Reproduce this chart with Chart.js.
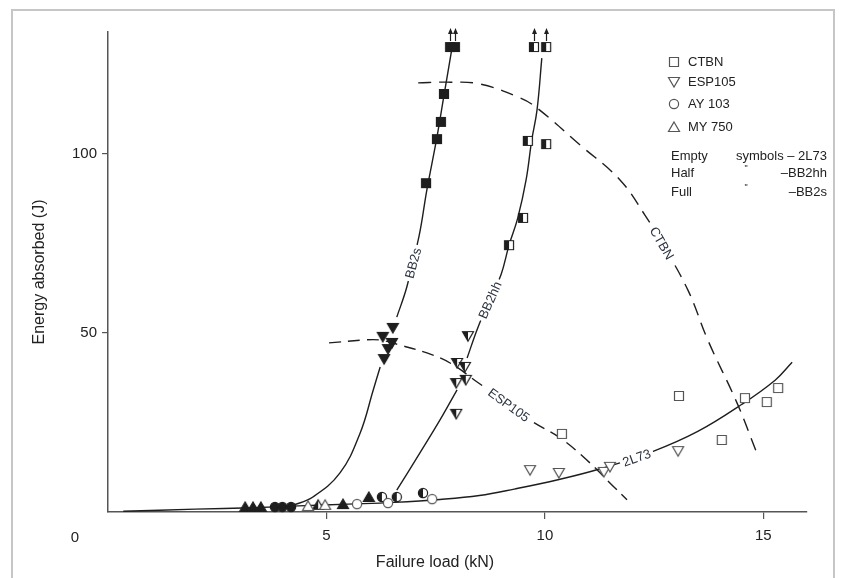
<!DOCTYPE html>
<html>
<head>
<meta charset="utf-8">
<title>Energy absorbed vs failure load</title>
<script src="https://cdn.jsdelivr.net/npm/chart.js@4.4.1/dist/chart.umd.min.js"></script>
<style>
    html, body { margin: 0; padding: 0; background: #fff; }
    #wrap { position: relative; width: 847px; height: 578px; overflow: hidden; }
    #frame { position: absolute; left: 11px; top: 9px; width: 824px; height: 590px; border: 2px solid #c6c6c6; box-sizing: border-box; }
    #plot { position: absolute; left: 0; top: 0; }
</style>
</head>
<body>
<div id="wrap">
    <div id="frame"></div>
    <canvas id="plot" width="847" height="578"></canvas>
</div>
<script>
// Failure load (kN) against energy absorbed (J) for four resins on three fabrics

const DARK = '#1e1e1e';
const FONT = '"Liberation Sans", Arial, Helvetica, sans-serif';

const xTicks = [5, 10, 15];
const yTicks = [50, 100];

const resinNames = ['CTBN', 'ESP105', 'AY 103', 'MY 750'];
const fabricNotes = [
    ['Empty', 'symbols \u2013 2L73'],
    ['Half', '\u2013BB2hh'],
    ['Full', '\u2013BB2s']
];

// Hand-drawn trend curves, [kN, J]; a null energy breaks the line
const curve2L73 = [[0.35, 0.2], [2.0, 0.8], [3.3, 1.2], [4.36, 1.7], [5.5, 2.2], [6.55, 2.7], [7.6, 3.5],
    [8.5, 4.6], [9.3, 6.4], [10.3, 9.0], [11.25, 12.0], [12.45, 16.8], [13.5, 22.5], [14.5, 30.0],
    [15.27, 36.8], [15.66, 41.8]];
const curveBB2s = [[4.2, 1.7], [4.69, 4.2], [5.31, 10.9], [5.77, 22], [6.07, 34], [6.23, 40.5], [6.4, null],
    [6.61, 54.4], [6.84, 62.8], [7.12, 77], [7.3, 90], [7.52, 104], [7.7, 117], [7.86, 128.5]];
const curveBB2hh = [[6.61, 6.1], [7.14, 16.5], [7.6, 25.7], [7.99, 34.1], [8.1, null], [8.22, 43],
    [8.47, 51.6], [8.74, 59.2], [9.0, 66.4], [9.18, 74.5], [9.38, 82.1], [9.57, 92.7], [9.70, 103.9],
    [9.82, 112.2], [9.93, 126.7]];
const curveCTBN = [[7.1, 119.8], [7.76, 120], [8.51, 119.5], [9.43, 115.6], [9.82, 112.8], [10.8, 102.5],
    [11.72, 92.7], [12.29, 82.9], [12.68, 75.1], [13.28, 61.8], [13.73, 48], [14.4, 30.4], [14.85, 16.5]];
const curveESP105 = [[5.06, 47.2], [5.84, 48], [6.23, 48], [6.68, 46.6], [7.3, 44.4], [7.83, 41.6],
    [8.45, 36.3], [9.18, 29.9], [9.73, 25.1], [10.35, 20.7], [10.96, 14.5], [11.54, 7.5], [11.88, 3.4]];

// Measured points, [kN, J]
const ctbn2L73 = [[13.07, 32.4], [10.39, 21.8], [14.05, 20.1], [14.58, 31.8], [15.08, 30.7], [15.34, 34.6]];
const ctbnBB2hh = [[9.18, 74.5], [9.5, 82.1], [9.61, 103.6], [10.03, 102.7], [9.75, 129.8], [10.03, 129.8]];
const ctbnBB2s = [[7.28, 91.8], [7.53, 104.1], [7.62, 108.9], [7.69, 116.7], [7.83, 129.8], [7.94, 129.8]];

const esp2L73 = [[9.66, 11.7], [10.32, 10.9], [11.35, 11.2], [11.49, 12.6], [13.05, 17.0]];
const espBB2hh = [[8.24, 49.1], [7.99, 41.6], [8.17, 40.5], [7.97, 36.0], [8.19, 36.9], [7.97, 27.4]];
const espBB2s = [[6.52, 51.4], [6.29, 48.9], [6.5, 47.2], [6.41, 45.5], [6.32, 42.7]];

const ay2L73 = [[5.7, 2.2], [6.41, 2.5], [7.42, 3.6]];
const ayBB2hh = [[6.27, 4.2], [6.61, 4.2], [7.21, 5.3]];
const ayBB2s = [[3.82, 1.4], [3.99, 1.4], [4.19, 1.4]];

const my2L73 = [[4.58, 1.7], [4.97, 2.0]];
const myBB2hh = [[4.81, 2.0]];
const myBB2s = [[3.14, 1.4], [3.32, 1.4], [3.5, 1.4], [5.38, 2.2], [5.97, 4.2]];

// Off-scale results (still rising) get an arrow
const OFF_SCALE = 129;

function makeMarker(shape, fill) {
    const size = 14;
    const m = size / 2;
    const c = document.createElement('canvas');
    c.width = size;
    c.height = size;
    const g = c.getContext('2d');
    const path = () => {
        g.beginPath();
        if (shape === 'square') {
            g.rect(m - 4.5, m - 4.5, 9, 9);
        } else if (shape === 'circle') {
            g.arc(m, m, 4.6, 0, Math.PI * 2);
        } else if (shape === 'triUp') {
            g.moveTo(m, m - 5);
            g.lineTo(m + 5.5, m + 4.5);
            g.lineTo(m - 5.5, m + 4.5);
            g.closePath();
        } else {
            g.moveTo(m - 5.5, m - 4.5);
            g.lineTo(m + 5.5, m - 4.5);
            g.lineTo(m, m + 5);
            g.closePath();
        }
    };
    path();
    g.fillStyle = '#fff';
    g.fill();
    if (fill === 'full') {
        g.fillStyle = DARK;
        g.fill();
    } else if (fill === 'half') {
        g.save();
        g.beginPath();
        g.rect(0, 0, m, size);
        g.clip();
        path();
        g.fillStyle = DARK;
        g.fill();
        g.restore();
    }
    path();
    g.strokeStyle = fill === 'empty' ? '#555' : DARK;
    g.lineWidth = 1.2;
    g.stroke();
    return c;
}

function pts(list) {
    return list.map(p => ({ x: p[0], y: p[1] }));
}

function curve(label, list, dash) {
    return {
        label: label,
        data: pts(list),
        showLine: true,
        pointRadius: 0,
        borderColor: DARK,
        borderWidth: 1.4,
        borderDash: dash || [],
        tension: 0.4,
        spanGaps: false,
        order: 2
    };
}

function markers(label, list, shape, fill) {
    return {
        label: label,
        data: pts(list),
        pointStyle: makeMarker(shape, fill),
        pointRadius: 6,
        showLine: false,
        clip: false,
        order: 1
    };
}

const datasets = [
    curve('2L73', curve2L73),
    curve('BB2s', curveBB2s),
    curve('BB2hh', curveBB2hh),
    curve('CTBN', curveCTBN, [13, 8]),
    curve('ESP105', curveESP105, [12, 7]),
    markers('CTBN 2L73', ctbn2L73, 'square', 'empty'),
    markers('CTBN BB2hh', ctbnBB2hh, 'square', 'half'),
    markers('CTBN BB2s', ctbnBB2s, 'square', 'full'),
    markers('ESP105 2L73', esp2L73, 'triDown', 'empty'),
    markers('ESP105 BB2hh', espBB2hh, 'triDown', 'half'),
    markers('ESP105 BB2s', espBB2s, 'triDown', 'full'),
    markers('AY 103 2L73', ay2L73, 'circle', 'empty'),
    markers('AY 103 BB2hh', ayBB2hh, 'circle', 'half'),
    markers('AY 103 BB2s', ayBB2s, 'circle', 'full'),
    markers('MY 750 2L73', my2L73, 'triUp', 'empty'),
    markers('MY 750 BB2hh', myBB2hh, 'triUp', 'half'),
    markers('MY 750 BB2s', myBB2s, 'triUp', 'full')
];

// Curve names written along the lines, arrows, key and axis titles
const figureNotes = {
    id: 'figureNotes',
    afterDatasetsDraw(chart) {
        const { ctx, scales: { x, y } } = chart;

        const curveLabels = [
            { text: 'BB2s', at: [6.98, 69.5], angle: -75 },
            { text: 'BB2hh', at: [8.74, 59.2], angle: -66 },
            { text: 'CTBN', at: [12.68, 75.1], angle: 60 },
            { text: 'ESP105', at: [9.18, 29.9], angle: 36 },
            { text: '2L73', at: [12.1, 15.2], angle: -20 }
        ];
        ctx.save();
        ctx.font = '13px ' + FONT;
        ctx.textAlign = 'center';
        ctx.textBaseline = 'middle';
        curveLabels.forEach(l => {
            const w = ctx.measureText(l.text).width;
            ctx.save();
            ctx.translate(x.getPixelForValue(l.at[0]), y.getPixelForValue(l.at[1]));
            ctx.rotate(l.angle * Math.PI / 180);
            ctx.fillStyle = '#fff';
            ctx.fillRect(-w / 2 - 3, -7, w + 6, 14);
            ctx.fillStyle = '#2b3240';
            ctx.fillText(l.text, 0, 1);
            ctx.restore();
        });

        // arrows above results that ran off the scale
        ctx.strokeStyle = DARK;
        ctx.fillStyle = DARK;
        ctx.lineWidth = 1.2;
        ctbnBB2s.concat(ctbnBB2hh).filter(p => p[1] > OFF_SCALE).forEach(p => {
            const px = Math.round(x.getPixelForValue(p[0])) + 0.5;
            const py = y.getPixelForValue(p[1]);
            ctx.beginPath();
            ctx.moveTo(px, py - 6);
            ctx.lineTo(px, py - 15);
            ctx.stroke();
            ctx.beginPath();
            ctx.moveTo(px - 2.5, py - 13);
            ctx.lineTo(px + 2.5, py - 13);
            ctx.lineTo(px, py - 19);
            ctx.closePath();
            ctx.fill();
        });
        ctx.restore();
    },
    afterDraw(chart) {
        const { ctx, chartArea: area } = chart;
        ctx.save();

        // key
        const shapes = ['square', 'triDown', 'circle', 'triUp'];
        const rowY = [62, 82, 104, 127];
        ctx.font = '13px ' + FONT;
        ctx.fillStyle = '#222';
        ctx.textBaseline = 'middle';
        resinNames.forEach((name, i) => {
            const icon = makeMarker(shapes[i], 'empty');
            ctx.drawImage(icon, 674 - icon.width / 2, rowY[i] - icon.height / 2);
            ctx.textAlign = 'left';
            ctx.fillText(name, 688, rowY[i]);
        });
        const noteY = [156, 173, 192];
        fabricNotes.forEach((n, i) => {
            ctx.textAlign = 'left';
            ctx.fillText(n[0], 671, noteY[i]);
            ctx.textAlign = 'right';
            ctx.fillText(n[1], 827, noteY[i]);
            if (i > 0) {
                ctx.textAlign = 'center';
                ctx.font = '9px ' + FONT;
                ctx.fillText('"', 746, noteY[i] - 4);
                ctx.font = '13px ' + FONT;
            }
        });

        // shared origin label and axis titles
        ctx.fillStyle = '#222';
        ctx.textAlign = 'center';
        ctx.font = '15px ' + FONT;
        ctx.fillText('0', area.left - 33, area.bottom + 26);
        ctx.font = '16px ' + FONT;
        ctx.fillText('Failure load (kN)', 435, area.bottom + 51);
        ctx.translate(40, (area.top + area.bottom) / 2);
        ctx.rotate(-Math.PI / 2);
        ctx.fillText('Energy absorbed (J)', 0, 0);
        ctx.restore();
    }
};

const ctx = document.getElementById('plot').getContext('2d');
new Chart(ctx, {
    type: 'scatter',
    data: { datasets: datasets },
    options: {
        responsive: false,
        animation: false,
        events: [],
        layout: { padding: { left: 0, top: 32, right: 40, bottom: 0 } },
        plugins: {
            legend: { display: false },
            tooltip: { enabled: false }
        },
        scales: {
            x: {
                type: 'linear',
                min: 0,
                max: 16,
                afterFit: s => { s.height = 66; },
                afterBuildTicks: s => { s.ticks = xTicks.map(v => ({ value: v })); },
                grid: { drawOnChartArea: false, drawTicks: true, tickLength: 7, color: '#555', lineWidth: 1.2 },
                border: { color: '#555', width: 1.5 },
                ticks: { color: '#222', padding: 8, font: { family: FONT, size: 15 } }
            },
            y: {
                type: 'linear',
                min: 0,
                max: 134,
                afterFit: s => { s.width = 108; },
                afterBuildTicks: s => { s.ticks = yTicks.map(v => ({ value: v })); },
                grid: { drawOnChartArea: false, drawTicks: true, tickLength: 6, color: '#555', lineWidth: 1.2 },
                border: { color: '#555', width: 1.5 },
                ticks: { color: '#222', padding: 5, font: { family: FONT, size: 15 } }
            }
        }
    },
    plugins: [figureNotes]
});
</script>
</body>
</html>
